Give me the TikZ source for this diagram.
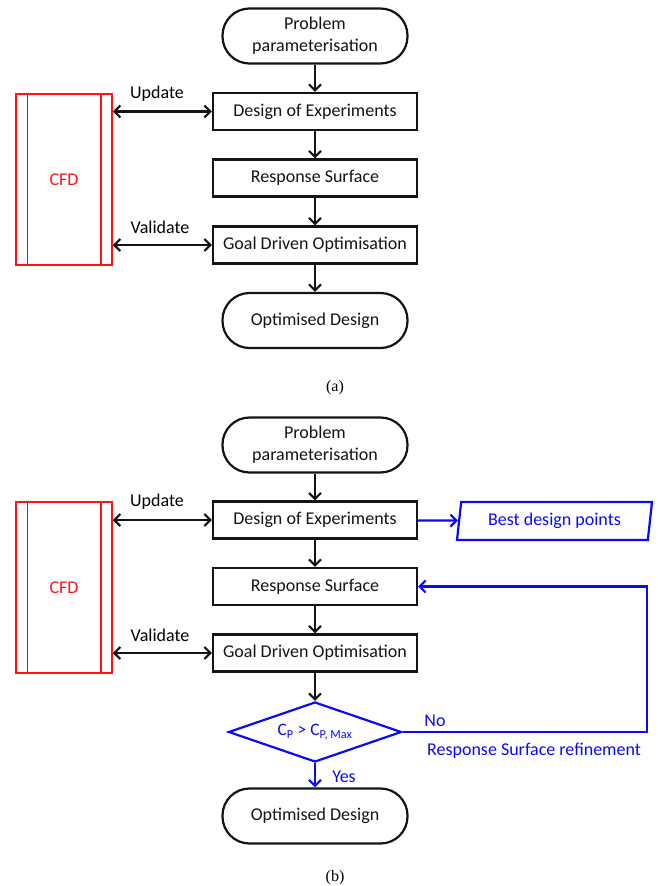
\documentclass[tikz,border=0pt]{standalone}
\usepackage{fontspec}
\setmainfont{Carlito}
\newfontfamily\capfont{Liberation Serif}
\usetikzlibrary{shapes.geometric,arrows.meta}
\definecolor{cfdred}{RGB}{255,20,20}
\definecolor{loopblue}{RGB}{10,10,245}
\definecolor{inkgray}{RGB}{20,20,20}

\begin{document}
\begin{tikzpicture}[x=1pt, y=-1pt,
    font=\fontsize{18}{22}\selectfont,
    box/.style={draw=inkgray, line width=2.2pt, text=inkgray, inner sep=0pt},
    procbox/.style={box, rectangle, minimum width=204pt, minimum height=37pt},
    termbox/.style={box, rectangle, rounded corners=27pt, minimum width=185pt, minimum height=55pt, align=center},
    cfdbox/.style={draw=cfdred, text=cfdred, line width=1.5pt, minimum width=96pt, minimum height=171pt, inner sep=0pt},
    iobox/.style={draw=loopblue, text=loopblue, line width=2.2pt, trapezium, trapezium left angle=75, trapezium right angle=105, trapezium stretches body, minimum width=195pt, minimum height=38pt, inner sep=0pt},
    decbox/.style={draw=loopblue, text=loopblue, line width=2.2pt, diamond, aspect=2.9, minimum width=173pt, minimum height=60pt, inner sep=0pt, font=\fontsize{17.5}{20}\selectfont},
    flow/.style={draw=inkgray, line width=2.2pt, -{Straight Barb[length=6pt,width=12pt]}},
    link/.style={draw=inkgray, line width=2.2pt, {Straight Barb[length=6pt,width=12pt]}-{Straight Barb[length=6pt,width=12pt]}},
    bflow/.style={draw=loopblue, line width=2.2pt, -{Straight Barb[length=6pt,width=12pt]}},
    blabel/.style={text=loopblue},
    caption/.style={font=\capfont\fontsize{16}{18}\selectfont}
]
    % Fix the page size
    \useasboundingbox (0,0) rectangle (657,886);

    % ---------- (a) ----------
    % Main column
    \node[termbox] (probA) at (315,36) {Problem\\parameterisation};
    \node[procbox] (doeA) at (315,111.5) {Design of Experiments};
    \node[procbox] (rsA) at (315,178) {Response Surface};
    \node[procbox] (gdoA) at (315,245) {Goal Driven Optimisation};
    \node[termbox] (optA) at (315,320.5) {Optimised Design};

    % CFD block with its two inner bars
    \node[cfdbox] (cfdA) at (64,179.5) {CFD};
    \draw[cfdred, line width=1.5pt] ([xshift=12pt]cfdA.north west) -- ([xshift=12pt]cfdA.south west);
    \draw[cfdred, line width=1.5pt] ([xshift=-12pt]cfdA.north east) -- ([xshift=-12pt]cfdA.south east);

    % Arrows down the column
    \draw[flow] (probA) -- (doeA);
    \draw[flow] (doeA) -- (rsA);
    \draw[flow] (rsA) -- (gdoA);
    \draw[flow] (gdoA) -- (optA);

    % Links to CFD
    \node (updA) at (157,94) {Update};
    \node (valA) at (160,227) {Validate};
    \draw[link] (cfdA.east |- doeA) -- (doeA.west);
    \draw[link] (cfdA.east |- gdoA) -- (gdoA.west);

    \node[caption] (capA) at (335,388) {(a)};

    % ---------- (b) ----------
    % Main column
    \node[termbox] (probB) at (315,445) {Problem\\parameterisation};
    \node[procbox] (doeB) at (315,520) {Design of Experiments};
    \node[procbox] (rsB) at (315,586.5) {Response Surface};
    \node[procbox] (gdoB) at (315,653) {Goal Driven Optimisation};
    \node[decbox] (decB) at (315,732) {C\textsubscript{P} > C\textsubscript{P, Max}};
    \node[termbox] (optB) at (315,816) {Optimised Design};

    % Output of the DoE
    \node[iobox] (bestB) at (554.5,521) {Best design points};

    % CFD block with its two inner bars
    \node[cfdbox] (cfdB) at (64,587.5) {CFD};
    \draw[cfdred, line width=1.5pt] ([xshift=12pt]cfdB.north west) -- ([xshift=12pt]cfdB.south west);
    \draw[cfdred, line width=1.5pt] ([xshift=-12pt]cfdB.north east) -- ([xshift=-12pt]cfdB.south east);

    % Arrows down the column
    \draw[flow] (probB) -- (doeB);
    \draw[flow] (doeB) -- (rsB);
    \draw[flow] (rsB) -- (gdoB);
    \draw[flow] (gdoB) -- (decB);
    \draw[bflow] (decB) -- (optB);
    \draw[bflow] (doeB) -- (bestB);

    % Refinement loop
    \coordinate (turnB) at (647,586.5);
    \draw[bflow] (decB.east) -| (turnB) -- (rsB.east);

    % Links to CFD
    \node (updB) at (157,502) {Update};
    \node (valB) at (160,635) {Validate};
    \draw[link] (cfdB.east |- doeB) -- (doeB.west);
    \draw[link] (cfdB.east |- gdoB) -- (gdoB.west);

    % Blue labels
    \node[blabel] (noB) at (435,721) {No};
    \node[blabel] (refB) at (534,751) {Response Surface refinement};
    \node[blabel] (yesB) at (344,777) {Yes};

    \node[caption] (capB) at (335,878) {(b)};
\end{tikzpicture}
\end{document}
